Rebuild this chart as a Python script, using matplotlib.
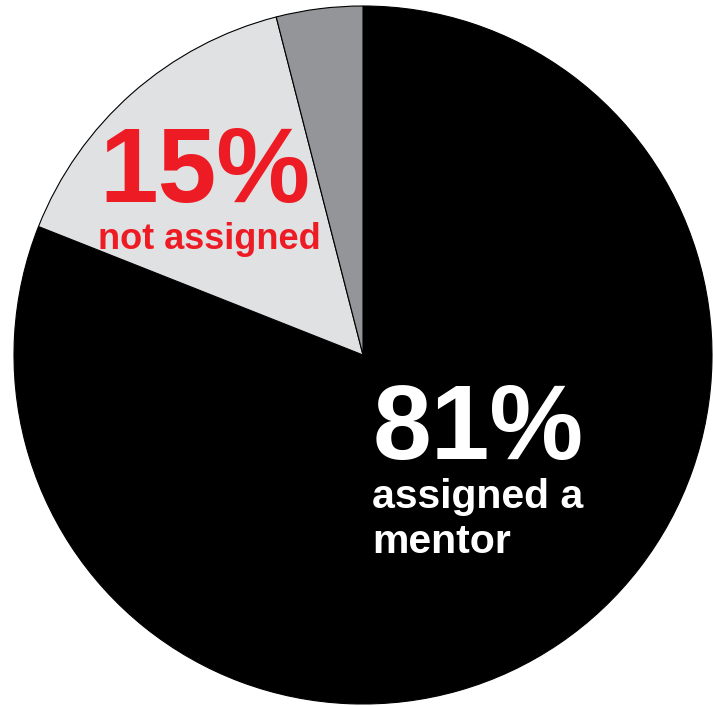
import matplotlib
matplotlib.use("Agg")
import matplotlib.pyplot as plt

# Mentor assignment shares (percent)
categories = ["assigned a mentor", "not assigned", "other"]
shares = [81, 15, 4]
colors = ["#000000", "#e0e1e3", "#939598"]

plt.rcParams["font.family"] = ["Liberation Sans", "DejaVu Sans"]

W, H = 713, 706
fig = plt.figure(figsize=(W / 100, H / 100), dpi=100)
cx, cy, r = 363, 355, 349
ax = fig.add_axes([(cx - r) / W, (H - cy - r) / H, 2 * r / W, 2 * r / H])

ax.pie(shares, colors=colors, startangle=90, counterclock=False,
       radius=1.0, wedgeprops=dict(edgecolor="#000000", linewidth=0.8))
ax.set_xlim(-1, 1)
ax.set_ylim(-1, 1)
ax.set_aspect("equal")
ax.axis("off")

red = "#ed1c24"
ax.text(-0.755, 0.438, f"{shares[1]}%", color=red, fontsize=76,
        fontweight="bold", ha="left", va="baseline")
ax.text(-0.758, 0.305, categories[1], color=red, fontsize=26,
        fontweight="bold", ha="left", va="baseline")

ax.text(0.027, -0.298, f"{shares[0]}%", color="white", fontsize=76,
        fontweight="bold", ha="left", va="baseline")
ax.text(0.027, -0.438, "assigned a", color="white", fontsize=29.5,
        fontweight="bold", ha="left", va="baseline")
ax.text(0.027, -0.567, "mentor", color="white", fontsize=29.5,
        fontweight="bold", ha="left", va="baseline")

fig.savefig("out.png", dpi=100, facecolor="white")
